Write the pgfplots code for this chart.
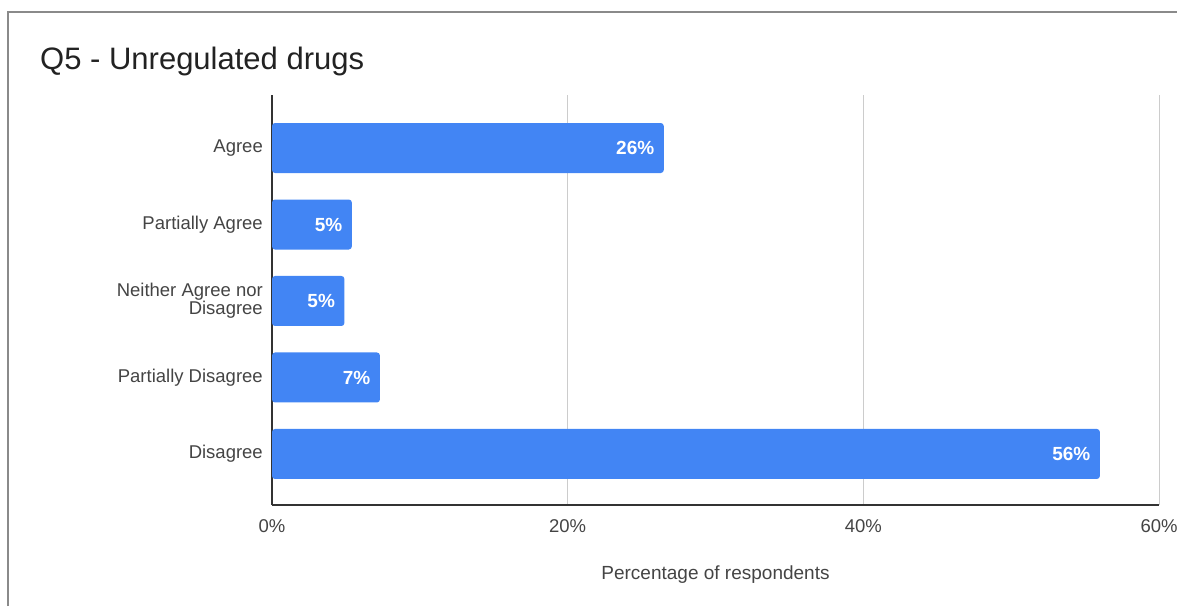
\documentclass[border=0pt]{standalone}
\usepackage{fontspec}
\setmainfont{Liberation Sans}
\usepackage{pgfplots}
\usepackage{pgfplotstable}
\pgfplotsset{compat=1.18}
\definecolor{barblue}{HTML}{4285F4}
\definecolor{lbl}{HTML}{444444}
\definecolor{ttl}{HTML}{222222}
\definecolor{gridc}{HTML}{CCCCCC}
\definecolor{axc}{HTML}{333333}
\definecolor{framec}{HTML}{8A8A8A}
\pgfplotstableread{
y val lab
0 56.0 56
1 7.3 7
2 4.9 5
3 5.4 5
4 26.5 26
}\datatable
\begin{document}
\begin{tikzpicture}[x=1pt,y=1pt]
\useasboundingbox (0,0) rectangle (1177,606);
\draw[framec, line width=1.5pt] (8,0) -- (8,594) -- (1177,594);
\node[anchor=base west, text=ttl, font=\fontsize{31}{36}\selectfont, inner sep=0pt] at (40,536) {Q5 - Unregulated drugs};
\begin{axis}[
  at={(272pt,101pt)}, anchor=south west,
  scale only axis, width=887pt, height=410pt,
  xbar, bar width=50pt,
  xmin=0, xmax=60, ymin=-0.667, ymax=4.693,
  xtick={0,20,40,60},
  xticklabel={\pgfmathprintnumber{\tick}\%},
  ytick={0,1,2,3,4},
  yticklabels={Disagree,Partially Disagree,{Neither Agree nor\\Disagree},Partially Agree,Agree},
  /pgf/number format/assume math mode=true,
  axis x line*=bottom, axis y line*=left,
  axis line style={draw=axc, line width=1.3pt},
  major tick length=0pt,
  xmajorgrids, grid style={gridc, line width=1pt},
  ticklabel style={font=\fontsize{18.5}{18}\selectfont, text=lbl},
  yticklabel style={align=right, inner sep=0pt, xshift=-9pt},
  xticklabel style={inner sep=0pt, yshift=-14pt},
  xlabel={Percentage of respondents},
  every axis x label/.style={at={(axis description cs:0.5,0)}, anchor=center, yshift=-70pt, font=\fontsize{19}{22}\selectfont, text=lbl},
  point meta=explicit symbolic,
  nodes near coords={\pgfplotspointmeta\%},
  nodes near coords align={anchor=east},
  every node near coord/.append style={anchor=east, xshift=-6pt, text=white, font=\bfseries\fontsize{19}{20}\selectfont},
  clip=false,
]
\addplot[fill=barblue, draw=none, rounded corners=3pt] table[x=val, y=y, meta=lab] {\datatable};
\end{axis}
\end{tikzpicture}
\end{document}
